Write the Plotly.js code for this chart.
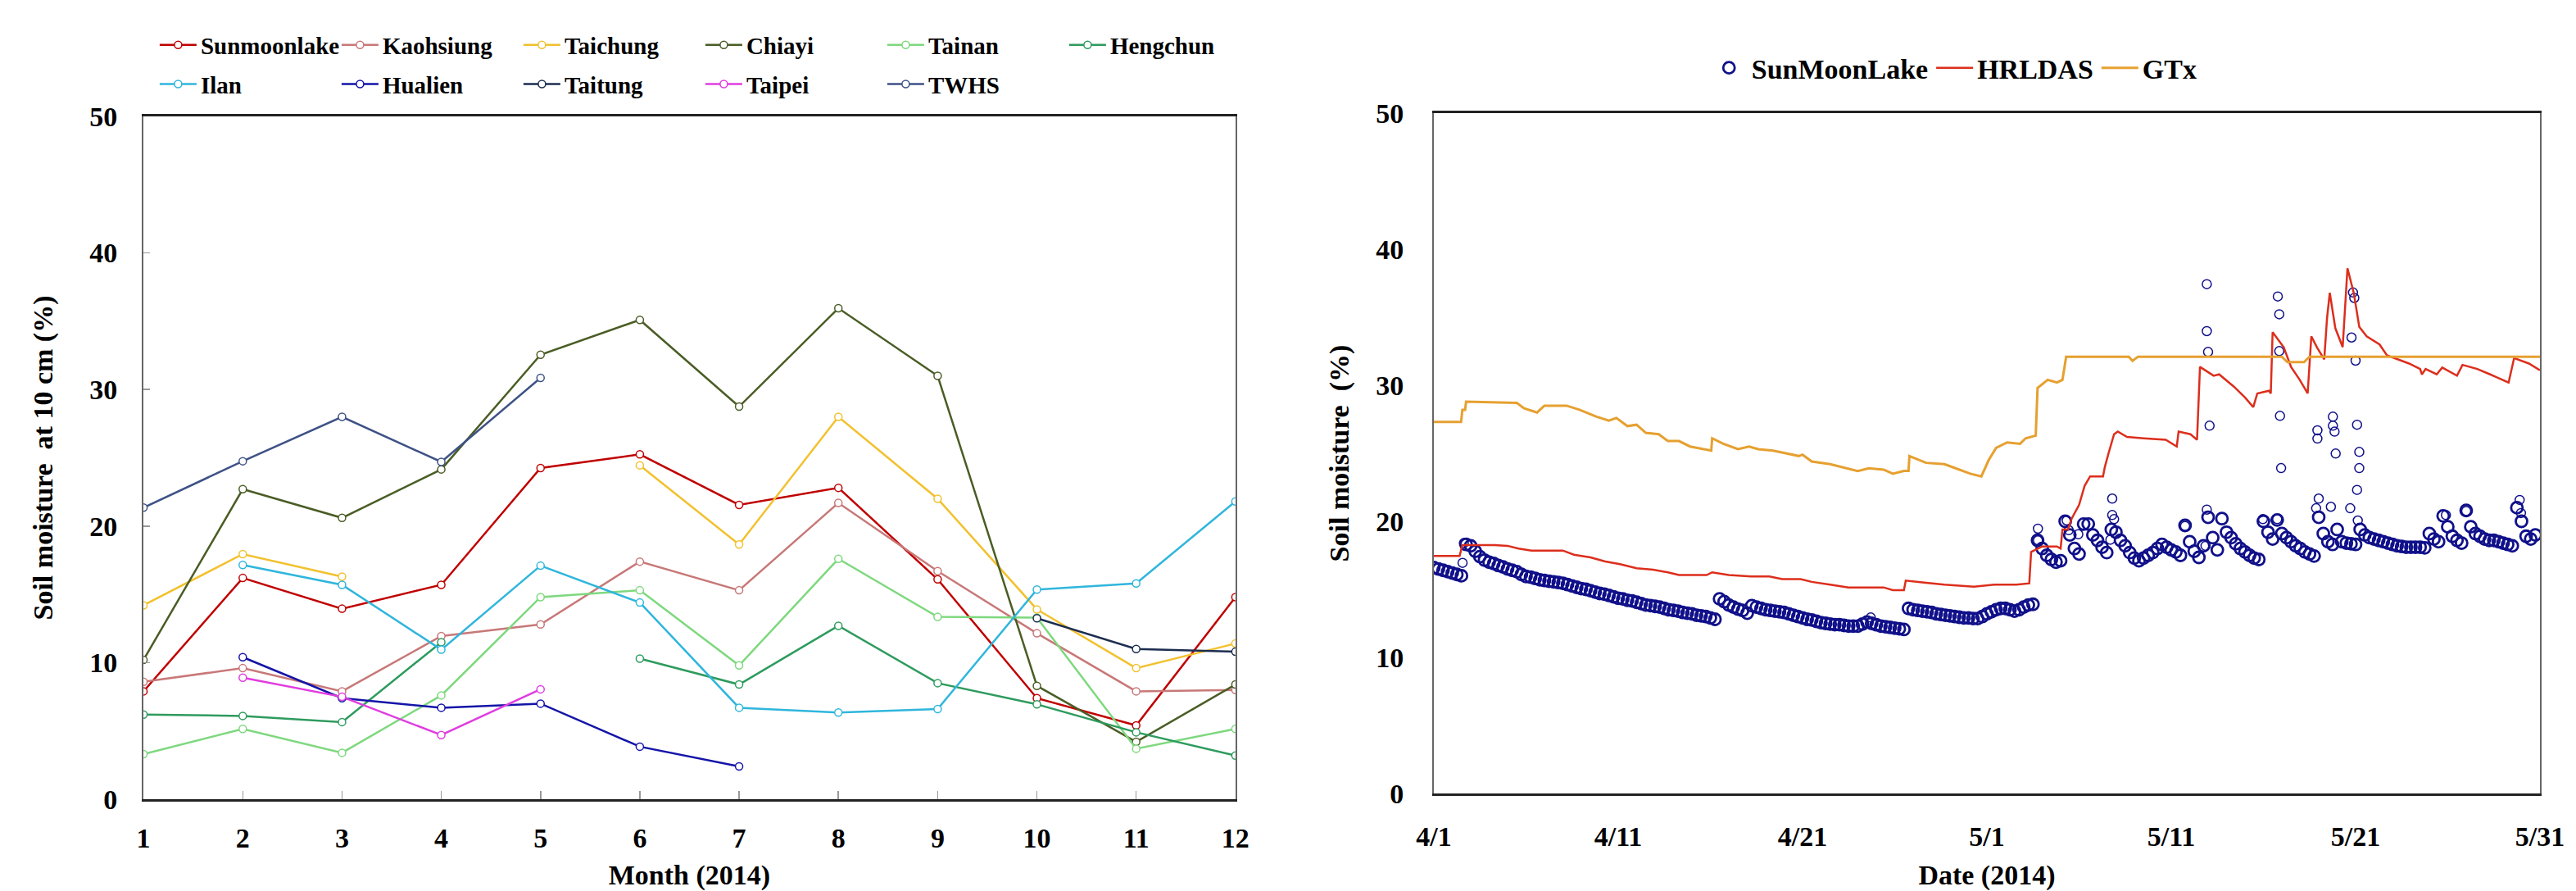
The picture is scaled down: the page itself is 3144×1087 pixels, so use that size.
<!DOCTYPE html>
<html>
<head>
<meta charset="utf-8">
<script src="https://cdn.plot.ly/plotly-3.0.1.min.js"></script>
<style>html,body{margin:0;padding:0;background:#fff;}#chart{width:3144px;height:1087px;}</style>
</head>
<body>
<div id="chart"></div>
<script>
// ---------- Left chart: monthly soil moisture at 10 cm (2014) ----------
const months = [1,2,3,4,5,6,7,8,9,10,11,12];
const monthTicks = ['1','2','3','4','5','6','7','8','9','10','11','12'];
const stationNames = ['Sunmoonlake','Kaohsiung','Taichung','Chiayi','Tainan','Hengchun','Ilan','Hualien','Taitung','Taipei','TWHS'];
const stationColors = ['#C00000','#C87878','#F2C12E','#4A5D25','#7ED87E','#2E9B5E','#2FB6DC','#1414A8','#1C2D4F','#E03CE0','#3E5286'];
const sunmoonlake = [7.9, 16.2, 13.95, 15.7, 24.25, 25.25, 21.55, 22.8, 16.1, 7.4, 5.4, 14.8];
const kaohsiung   = [8.6, 9.6, 7.9, 11.95, 12.8, 17.4, 15.3, 21.7, 16.7, 12.15, 7.9, 8.0];
const taichung    = [14.2, 17.95, 16.3, null, null, 24.45, 18.65, 28.0, 22.0, 13.9, 9.6, 11.4];
const chiayi      = [10.2, 22.7, 20.6, 24.15, 32.55, 35.1, 28.75, 35.95, 31.0, 8.3, 4.2, 8.4];
const tainan      = [3.3, 5.15, 3.4, 7.6, 14.8, 15.3, 9.8, 17.6, 13.35, 13.3, 3.7, 5.15];
const hengchun    = [6.2, 6.1, 5.65, 11.5, null, 10.3, 8.4, 12.7, 8.5, 6.95, 4.9, 3.2];
const ilan        = [null, 17.15, 15.7, 10.95, 17.1, 14.4, 6.7, 6.35, 6.6, 15.35, 15.8, 21.8];
const hualien     = [null, 10.4, 7.4, 6.7, 7.0, 3.85, 2.4, null, null, null, null, null];
const taitung     = [null, null, null, null, null, null, null, null, null, 13.25, 11.0, 10.8];
const taipei      = [null, 8.9, 7.5, 4.7, 8.05, null, null, null, null, null, null, null];
const twhs        = [21.35, 24.75, 28.0, 24.7, 30.85, null, null, null, null, null, null, null];
const stationSeries = [sunmoonlake, kaohsiung, taichung, chiayi, tainan, hengchun, ilan, hualien, taitung, taipei, twhs];

// ---------- Right chart: SunMoonLake obs vs models (4/1 - 5/31, 2014) ----------
const dateTickDays = [0,10,20,30,40,50,60];
const dateTickText = ['4/1','4/11','4/21','5/1','5/11','5/21','5/31'];
const obsStartDay = 0;     // first sample at 4/1 00:00
const obsStepDay = 0.25;   // one reading every 6 h
const obsVal = [
 16.6,16.5,16.4,16.3, 16.2,16.1,16.0,18.3, 18.2,17.8,17.4,17.15, 17.0,16.9,16.75,16.65,
 16.5,16.4,16.3,16.1, 15.95,15.9,15.8,15.7, 15.65,15.6,15.55,15.5, 15.45,15.35,15.25,15.15,
 15.05,15.0,14.9,14.8, 14.7,14.65,14.55,14.45, 14.35,14.3,14.2,14.15, 14.05,13.95,13.85,13.8,
 13.75,13.7,13.6,13.5, 13.45,13.4,13.3,13.25, 13.2,13.1,13.05,13.0, 12.9,12.8,14.3,14.1,
 13.85,13.7,13.55,13.45, 13.25,13.8,13.7,13.6, 13.5,13.45,13.4,13.35, 13.3,13.2,13.1,13.0,
 12.9,12.8,12.75,12.65, 12.55,12.5,12.45,12.4, 12.4,12.35,12.3,12.3, 12.3,12.45,12.6,12.5,
 12.4,12.3,12.25,12.2, 12.15,12.1,12.05,13.6, 13.5,13.45,13.4,13.35, 13.3,13.2,13.15,13.1,
 13.05,13.0,12.95,12.9, 12.9,12.85,12.85,13.0, 13.2,13.35,13.5,13.6, 13.6,13.5,13.4,13.5,
 13.7,13.85,13.9,18.6, 18.0,17.5,17.2,17.0, 17.1,20.0,19.0,18.0, 17.6,19.8,19.8,19.0,
 18.6,18.1,17.7,19.4, 19.2,18.6,18.2,17.7, 17.3,17.1,17.3,17.5, 17.7,18.0,18.3,18.1,
 17.9,17.75,17.5,19.7, 18.5,17.8,17.35,18.2, 20.3,18.8,17.9,20.2, 19.2,18.8,18.35,18.0,
 17.75,17.5,17.3,17.2, 20.0,19.2,18.7,20.1, 19.1,18.8,18.5,18.2, 18.0,17.75,17.6,17.45,
 20.3,19.1,18.5,18.3, 19.4,18.5,18.4,18.35, 18.3,19.4,19.0,18.8, 18.7,18.6,18.5,18.4,
 18.3,18.2,18.15,18.1, 18.1,18.1,18.1,18.05, 19.1,18.7,18.5,20.4, 19.6,18.9,18.6,18.4,
 20.8,19.6,19.1,18.9, 18.7,18.6,18.6,18.5, 18.4,18.3,18.2,21.0, 20.0,18.9,18.7,19.0
];
// scattered individual readings (rain spikes)
const obsOutDay = [1.56,1.63,23.7,32.77,32.77,34.33,34.44,34.96,36.7,36.8,36.8,36.9,40.75,
 41.86,41.93,41.93,42.0,42.08,41.93,44.97,45.75,45.78,45.86,45.86,45.9,45.96,47.86,47.93,47.93,48.0,
 48.66,48.77,48.77,48.86,48.92,49.71,49.78,49.86,49.93,50.0,50.08,50.08,50.12,50.2,50.2,54.9,56.0,58.9,58.97];
const obsOutVal = [16.95,18.4,12.93,19.46,18.6,20.06,19.35,19.05,18.65,21.67,20.46,20.16,19.66,
 18.2,20.86,37.43,32.45,27.03,33.98,20.16,20.16,36.53,35.22,32.51,27.75,23.91,20.96,26.69,26.08,21.67,
 21.07,27.69,27.03,26.59,24.98,20.96,33.51,36.82,36.42,31.81,27.1,22.31,20.06,25.1,23.91,20.46,20.76,21.57,20.61];

const hrDay = [0,1.4,1.55,3.3,4.0,4.6,5.3,7.0,7.6,8.5,9.3,10.1,11.0,11.9,12.7,13.3,14.8,15.1,16.0,17.2,18.2,18.9,19.9,20.5,
 21.5,22.5,24.4,24.9,25.5,25.6,26.6,27.7,29.3,30.4,31.6,32.3,32.4,33.0,33.8,34.0,34.1,34.4,34.6,35.0,35.3,35.6,36.3,
 36.4,36.6,36.9,37.1,37.6,38.5,39.7,40.3,40.4,41.04,41.4,41.56,42.3,42.6,43.4,44.0,44.45,44.67,45.3,45.4,45.5,46.1,
 46.5,46.97,47.4,47.6,47.9,48.3,48.45,48.6,48.9,49.3,49.56,49.9,50.2,50.6,51.3,51.7,52.5,52.9,53.5,53.6,53.8,54.4,
 54.7,55.5,55.8,56.6,57.3,58.3,58.6,59.4,60.0];
const hrVal = [17.45,17.45,18.25,18.25,18.2,18.0,17.85,17.85,17.55,17.35,17.05,16.85,16.55,16.45,16.25,16.05,16.05,16.25,
 16.05,15.95,15.95,15.75,15.75,15.55,15.34,15.14,15.14,14.94,14.94,15.64,15.5,15.34,15.2,15.34,15.34,15.44,17.75,18.15,
 18.15,18.0,19.4,19.4,20.2,21.2,22.6,23.3,23.3,24.0,25.0,26.4,26.6,26.2,26.1,26.0,25.5,26.6,26.4,26.0,31.35,30.7,30.8,
 29.9,29.1,28.4,29.4,29.6,29.4,33.9,32.8,31.35,30.4,29.4,33.6,32.8,31.9,34.9,36.8,34.2,32.8,38.6,36.8,34.3,33.6,33.0,
 32.2,31.8,31.6,31.2,30.8,31.2,30.8,31.3,30.7,31.5,31.2,30.8,30.2,32.0,31.6,31.1];

const gtDay = [0,1.48,1.55,1.7,1.75,4.5,4.9,5.6,6.0,7.2,7.9,8.8,9.5,9.9,10.5,11.0,11.5,12.2,12.7,13.3,13.9,14.9,15.05,
 15.1,15.7,16.5,17.1,17.6,18.4,19.1,19.8,20.0,20.5,21.5,23.0,23.6,24.4,24.9,25.5,25.75,25.8,26.7,27.7,28.3,29.1,29.7,
 30.1,30.5,31.1,31.8,32.1,32.65,32.75,33.3,33.8,34.1,34.3,37.7,37.9,38.2,46.0,46.3,47.2,47.5,60.0];
const gtVal = [27.3,27.3,28.2,28.2,28.8,28.7,28.3,28.0,28.5,28.5,28.2,27.7,27.4,27.6,27.0,27.1,26.5,26.4,25.9,25.9,25.5,
 25.2,25.2,26.1,25.7,25.3,25.5,25.3,25.2,25.0,24.8,24.9,24.4,24.2,23.7,23.9,23.8,23.5,23.7,23.7,24.8,24.3,24.2,23.9,
 23.5,23.3,24.5,25.4,25.8,25.7,26.1,26.3,29.8,30.4,30.2,30.4,32.1,32.1,31.8,32.1,32.1,31.7,31.7,32.1,32.1];

const obsDay = obsVal.map((_, i) => obsStartDay + i * obsStepDay);

const FONT = 'Liberation Serif, Times New Roman, serif';
const OBS_COLOR = '#10108A';
const traces = [];
stationNames.forEach((name, i) => {
  traces.push({
    type: 'scatter', mode: 'lines+markers', name: name,
    x: months, y: stationSeries[i], xaxis: 'x', yaxis: 'y',
    legend: i < 6 ? 'legend' : 'legend2',
    line: {color: stationColors[i], width: 2.5},
    marker: {symbol: 'circle', size: 9, color: '#ffffff', line: {color: stationColors[i], width: 1.5}}
  });
});
traces.push({
  type: 'scatter', mode: 'markers', name: 'SunMoonLake', legend: 'legend3',
  x: obsDay, y: obsVal, xaxis: 'x2', yaxis: 'y2',
  marker: {symbol: 'circle-open', size: 14, color: OBS_COLOR, line: {width: 2.8}}
});
traces.push({
  type: 'scatter', mode: 'markers', name: 'SunMoonLake', legend: 'legend3', showlegend: false,
  x: obsOutDay, y: obsOutVal, xaxis: 'x2', yaxis: 'y2',
  marker: {symbol: 'circle-open', size: 11, color: OBS_COLOR, line: {width: 1.5}}
});
traces.push({
  type: 'scatter', mode: 'lines', name: 'HRLDAS', legend: 'legend3',
  x: hrDay, y: hrVal, xaxis: 'x2', yaxis: 'y2',
  line: {color: '#DC2E1C', width: 2.5}
});
traces.push({
  type: 'scatter', mode: 'lines', name: 'GTx', legend: 'legend3',
  x: gtDay, y: gtVal, xaxis: 'x2', yaxis: 'y2',
  line: {color: '#E6A030', width: 3}
});

const tickFont = {family: FONT, size: 34, color: '#000', weight: 'bold'};
const titleFont = {family: FONT, size: 34, color: '#000', weight: 'bold'};

const layout = {
  width: 3144, height: 1087,
  margin: {l: 0, r: 0, t: 0, b: 0},
  paper_bgcolor: '#fff', plot_bgcolor: '#fff',
  font: {family: FONT, color: '#000'},
  xaxis: {
    domain: [0.0557, 0.4796], anchor: 'y', range: [1, 12],
    tickvals: months, ticktext: monthTicks,
    showline: true, mirror: true, linecolor: '#222', linewidth: 3,
    ticks: 'inside', ticklen: 10, tickcolor: '#999', tickwidth: 1.5,
    showgrid: false, zeroline: false, tickfont: tickFont, ticklabelstandoff: 15,
    title: {text: 'Month (2014)', font: titleFont, standoff: 21}
  },
  yaxis: {
    domain: [0.1030, 0.8694], anchor: 'x', range: [0, 50], dtick: 10,
    showline: true, mirror: true, linecolor: '#666', linewidth: 2,
    ticks: 'inside', ticklen: 8, tickcolor: '#999', tickwidth: 1.5,
    showgrid: false, zeroline: false, tickfont: tickFont, ticklabelstandoff: 23,
    title: {text: 'Soil moisture\u00a0\u00a0at 10 cm (%)', font: titleFont, standoff: 34}
  },
  xaxis2: {
    domain: [0.5566, 0.9860], anchor: 'y2', range: [0, 60],
    tickvals: dateTickDays, ticktext: dateTickText,
    showline: true, mirror: true, linecolor: '#222', linewidth: 3,
    ticks: '', showgrid: false, zeroline: false, tickfont: tickFont, ticklabelstandoff: 20,
    title: {text: 'Date (2014)', font: titleFont, standoff: 22}
  },
  yaxis2: {
    domain: [0.1095, 0.8730], anchor: 'x2', range: [0, 50], dtick: 10,
    showline: true, mirror: true, linecolor: '#666', linewidth: 2,
    ticks: '', showgrid: false, zeroline: false, tickfont: tickFont, ticklabelstandoff: 28,
    title: {text: 'Soil moisture\u00a0\u00a0(%)', font: titleFont, standoff: 22}
  },
  legend: {
    x: 0.0604, y: 0.973, xanchor: 'left', yanchor: 'top', orientation: 'h',
    entrywidth: 162, entrywidthmode: 'pixels', itemwidth: 45,
    font: {family: FONT, size: 29, color: '#000', weight: 'bold'}, bgcolor: 'rgba(0,0,0,0)'
  },
  legend2: {
    x: 0.0604, y: 0.929, xanchor: 'left', yanchor: 'top', orientation: 'h',
    entrywidth: 162, entrywidthmode: 'pixels', itemwidth: 45,
    font: {family: FONT, size: 29, color: '#000', weight: 'bold'}, bgcolor: 'rgba(0,0,0,0)'
  },
  legend3: {
    x: 0.7585, y: 0.9236, xanchor: 'center', yanchor: 'middle', orientation: 'h', itemwidth: 45,
    font: {family: FONT, size: 34, color: '#000', weight: 'bold'}, bgcolor: 'rgba(0,0,0,0)'
  },
  showlegend: true
};

Plotly.newPlot('chart', traces, layout, {staticPlot: true, displayModeBar: false});
</script>
</body>
</html>
